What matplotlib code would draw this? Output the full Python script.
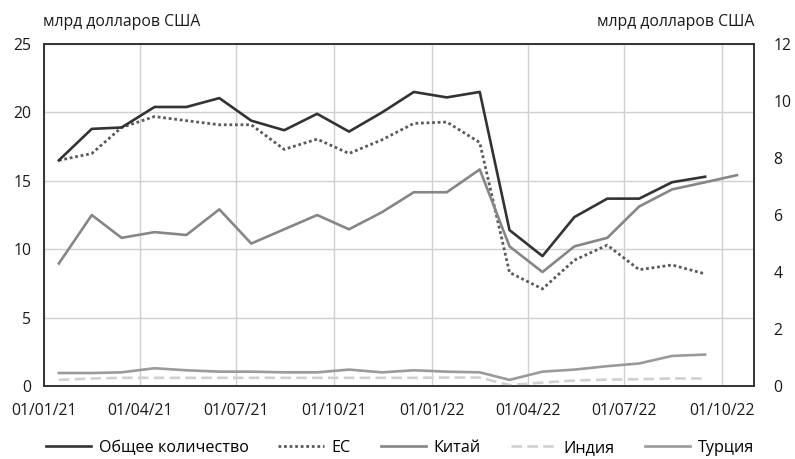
import pandas as pd
import matplotlib
matplotlib.use('Agg')
import matplotlib.pyplot as plt
import matplotlib.dates as mdates

plt.rcParams['font.family'] = ['Open Sans', 'DejaVu Sans']

# monthly values, Jan 2021 onwards (billion USD)
total = [16.5, 18.8, 18.9, 20.4, 20.4, 21.05, 19.4, 18.7, 19.9, 18.6, 20.0, 21.5,
         21.1, 21.5, 11.4, 9.5, 12.35, 13.7, 13.7, 14.9, 15.3]
eu = [16.5, 17.0, 18.9, 19.7, 19.4, 19.1, 19.1, 17.3, 18.05, 17.0, 18.0, 19.2,
      19.3, 17.8, 8.3, 7.1, 9.2, 10.3, 8.5, 8.85, 8.2]
# China on the right axis
china = [4.3, 6.0, 5.2, 5.4, 5.3, 6.2, 5.0, 5.5, 6.0, 5.5, 6.1, 6.8,
         6.8, 7.6, 4.9, 4.0, 4.9, 5.2, 6.3, 6.9, 7.15, 7.4]
india = [0.45, 0.55, 0.6, 0.6, 0.6, 0.6, 0.6, 0.6, 0.6, 0.6, 0.6, 0.6,
         0.62, 0.62, 0.07, 0.25, 0.4, 0.47, 0.5, 0.55, 0.55]
turkey = [0.95, 0.95, 1.0, 1.3, 1.15, 1.05, 1.05, 1.0, 1.0, 1.2, 1.0, 1.15,
          1.05, 1.0, 0.45, 1.05, 1.2, 1.45, 1.65, 2.2, 2.3]

labels = ['Общее количество', 'ЕС', 'Китай', 'Индия', 'Турция']
unit = 'млрд долларов США'

def months(n):
    return pd.date_range('2021-01-01', periods=n, freq='MS') + pd.Timedelta(days=14)

fig = plt.figure(figsize=(7.95, 4.59), dpi=100)
ax = fig.add_axes([0.0553, 0.159, 0.8931, 0.745])
ax2 = ax.twinx()

l1, = ax.plot(months(len(total)), total, color='#333333', lw=1.9, zorder=5)
l2, = ax.plot(months(len(eu)), eu, color='#5a5a5a', lw=2.0, ls=(0, (1, 1)), zorder=4)
l4, = ax.plot(months(len(india)), india, color='#d0d0d0', lw=1.9, ls=(0, (4, 2)), zorder=3)
l5, = ax.plot(months(len(turkey)), turkey, color='#9a9a9a', lw=1.9, zorder=3)
l3, = ax2.plot(months(len(china)), china, color='#868686', lw=1.9)

ax.set_xlim(pd.Timestamp('2021-01-01'), pd.Timestamp('2022-10-31'))
ax.set_ylim(0, 25)
ax2.set_ylim(0, 12)
ax.set_yticks(range(0, 26, 5))
ax2.set_yticks(range(0, 13, 2))

ax.xaxis.set_major_locator(mdates.MonthLocator(bymonth=[1, 4, 7, 10]))
ax.xaxis.set_major_formatter(mdates.DateFormatter('%d/%m/%y'))

ax.grid(True, color='#d0d0d0', lw=1.0)
ax.set_axisbelow(True)
for a in (ax, ax2):
    for s in a.spines.values():
        s.set_color('#333333')
        s.set_linewidth(1.2)
    a.tick_params(length=0, labelsize=11.3, colors='#1a1a1a')
ax.tick_params(axis='x', pad=12)
ax.tick_params(axis='y', pad=9)
ax2.tick_params(axis='y', pad=14)

fig.text(0.054, 0.953, unit, fontsize=11.3, ha='left', va='center', color='#1a1a1a')
fig.text(0.949, 0.953, unit, fontsize=11.3, ha='right', va='center', color='#1a1a1a')

fig.legend([l1, l2, l3, l4, l5], labels, loc='center', bbox_to_anchor=(0.503, 0.024),
           ncol=5, frameon=False, fontsize=11.6, handlelength=2.8, columnspacing=1.85,
           handletextpad=0.5)

fig.savefig('out.png', dpi=100)
